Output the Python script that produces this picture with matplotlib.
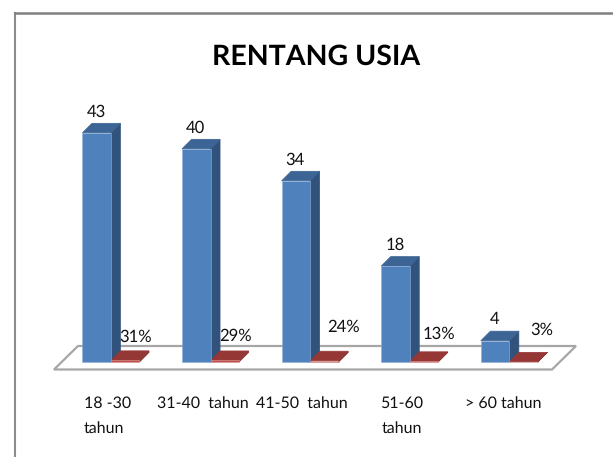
import matplotlib
matplotlib.use("Agg")
import matplotlib.pyplot as plt
from matplotlib.patches import Polygon

plt.rcParams["font.family"] = ["Lato", "DejaVu Sans"]
plt.rcParams["text.hinting"] = "no_hinting"

categories = ["18 -30\ntahun", "31-40  tahun", "41-50  tahun", "51-60\ntahun", "> 60 tahun"]
jumlah = [43, 40, 34, 18, 4]
persen = [31, 29, 24, 13, 3]

# scale of the picture, pixels per category and pixels per unit
W, H = 613, 457
px_x = 99.6
px_y = 5.33
x0_px = 96.7  # centre of first bar
base_px = 362

fig = plt.figure(figsize=(W / 100, H / 100), dpi=100, facecolor="white")
ax = fig.add_axes([0, 0, 1, 1])
ax.set_xlim(-x0_px / px_x, (W - x0_px) / px_x)
ax.set_ylim(-(H - base_px) / px_y, base_px / px_y)
ax.axis("off")


def dx(p):
    return p / px_x


def dy(p):
    return p / px_y


# outer frame, only left and top show
ax.plot([dx(14.5) + ax.get_xlim()[0]] * 2, [ax.get_ylim()[0], dy(349)], color="#8c8c8c", lw=1.5, clip_on=False)
ax.plot([dx(14.5) + ax.get_xlim()[0], ax.get_xlim()[1]], [dy(349)] * 2, color="#808080", lw=1.8)

# floor of the 3d chart
floor = Polygon(
    [(dx(54 - x0_px), dy(-7.5)), (dx(552 - x0_px), dy(-7.5)), (dx(576 - x0_px), dy(16)), (dx(78 - x0_px), dy(16))],
    closed=True, facecolor="white", edgecolor="#a6a6a6", lw=1.6, zorder=1,
)
ax.add_patch(floor)

bar_w = 28.5
depth = 9.5


def bar3d(xc, val, front, side, top, edge):
    l = xc - dx(bar_w) / 2
    r = xc + dx(bar_w) / 2
    d_x = dx(depth)
    d_y = dy(depth)
    ax.add_patch(Polygon([(r, 0), (r + d_x, d_y), (r + d_x, val + d_y), (r, val)], facecolor=side, edgecolor=side, lw=0.5, zorder=3))
    ax.add_patch(Polygon([(l, val), (r, val), (r + d_x, val + d_y), (l + d_x, val + d_y)], facecolor=top, edgecolor=top, lw=0.5, zorder=3))
    ax.bar(xc, val, width=dx(bar_w), color=front, edgecolor=edge, lw=0.4, zorder=4)


for i in range(len(categories)):
    bar3d(i, jumlah[i], "#4f81bd", "#31527b", "#3c6494", "#8fb0d8")
    bar3d(i + dx(bar_w), persen[i] / 100, "#c0504d", "#7e2f2d", "#953735", "#d99694")

# value labels
for i, v in enumerate(jumlah):
    ax.text(i - dx(0.5), v + dy(21), str(v), ha="center", va="center", fontsize=12, color="#111111", zorder=6)

# percent labels were dragged by hand in the original, so each has its own shift
pct_shift_x = [39, 39, 48, 43, 47]
pct_shift_y = [25, 26, 35, 28, 32]
for i, p in enumerate(persen):
    ax.text(i + dx(pct_shift_x[i]), dy(pct_shift_y[i]), f"{p}%", ha="center", va="center", fontsize=12, color="#111111", zorder=6)

# category labels
cat_shift_x = [-1, 7, 6, 6, 8]
for i, c in enumerate(categories):
    ha = "left" if i == 0 else "center"
    sx = -13 if i == 0 else cat_shift_x[i]
    ax.text(i + dx(sx), dy(-34), c, ha=ha, va="top", fontsize=11.5, color="#111111", linespacing=1.9, zorder=6)

ax.text(dx(316 - x0_px), dy(base_px - 57), "RENTANG USIA", ha="center", va="center", fontsize=20.5, fontweight="bold", color="black")

fig.savefig("out.png", dpi=100)
